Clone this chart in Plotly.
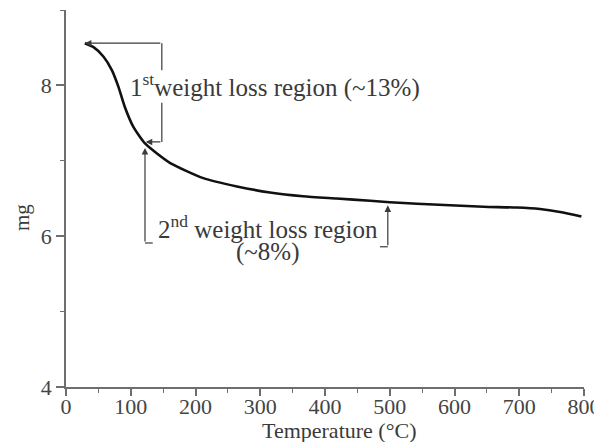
import plotly.graph_objects as go

# Data (Temperature in °C, mass in mg)
temperature = [29, 42, 58, 71, 81, 91, 104, 122, 140, 161, 212, 264, 315, 366,
               418, 470, 500, 542, 593, 645, 696, 732, 763, 796]
mass = [8.56, 8.51, 8.38, 8.20, 7.98, 7.71, 7.45, 7.23, 7.10, 6.97, 6.77, 6.66,
        6.58, 6.53, 6.50, 6.47, 6.45, 6.43, 6.41, 6.39, 6.38, 6.36, 6.32, 6.26]
x_ticks = [0, 100, 200, 300, 400, 500, 600, 700, 800]
y_ticks = [4, 6, 8]

FONT = "Liberation Serif"
AX = "#6e6e6e"
TXT = "#3a3a3a"

fig = go.Figure()
fig.add_trace(go.Scatter(x=temperature, y=mass, mode="lines",
                         line=dict(color="#111111", width=2.6, shape="spline", smoothing=0.6),
                         hoverinfo="skip", showlegend=False))

def seg(x0, y0, x1, y1):
    fig.add_shape(type="line", x0=x0, y0=y0, x1=x1, y1=y1, xref="x", yref="y",
                  line=dict(color=TXT, width=1.2))

def arrow(xt, yt, xs, ys):
    fig.add_annotation(x=xt, y=yt, ax=xs, ay=ys, xref="x", yref="y", axref="x", ayref="y",
                       text="", showarrow=True, arrowhead=2, arrowsize=1.1, arrowwidth=1.2,
                       arrowcolor=TXT, standoff=0)

# 1st region bracket
arrow(temperature[0], mass[0], 148, mass[0])
seg(148, mass[0], 148, 8.20)
seg(148, 7.77, 148, 7.25)
arrow(123, 7.25, 148, 7.25)
fig.add_annotation(x=95, y=8.0, xref="x", yref="y", xanchor="left", yanchor="middle",
                   text="1<sup>st</sup>weight loss region (~13%)", showarrow=False,
                   font=dict(family=FONT, size=25, color=TXT))

# 2nd region bracket
arrow(122, 7.17, 122, 5.91)
seg(122, 5.91, 134, 5.91)
arrow(497, 6.41, 497, 5.86)
seg(497, 5.86, 485, 5.86)
fig.add_annotation(x=312, y=6.12, xref="x", yref="y", xanchor="center", yanchor="middle",
                   text="2<sup>nd</sup> weight loss region", showarrow=False,
                   font=dict(family=FONT, size=25, color=TXT))
fig.add_annotation(x=312, y=5.79, xref="x", yref="y", xanchor="center", yanchor="middle",
                   text="(~8%)", showarrow=False,
                   font=dict(family=FONT, size=25, color=TXT))

# axis titles
fig.add_annotation(x=(339 - 66) / 518, y=(387 - 431) / 377, xref="paper", yref="paper",
                   text="Temperature (°C)", showarrow=False, xanchor="center", yanchor="middle",
                   font=dict(family=FONT, size=22, color=TXT))
fig.add_annotation(x=(22 - 66) / 518, y=(387 - 218) / 377, xref="paper", yref="paper",
                   text="mg", textangle=-90, showarrow=False, xanchor="center", yanchor="middle",
                   font=dict(family=FONT, size=21, color=TXT))

fig.update_xaxes(range=[0, 800], tickvals=x_ticks, ticktext=[str(v) for v in x_ticks],
                 automargin=False, ticklabelstandoff=-8,
                 showline=True, linecolor=AX, linewidth=1.5, showgrid=False, zeroline=False,
                 ticks="outside", ticklen=7, tickwidth=1.5, tickcolor=AX,
                 minor=dict(dtick=50, tick0=0, ticks="outside", ticklen=4, tickwidth=1.2, tickcolor=AX, showgrid=False),
                 tickfont=dict(family=FONT, size=22, color="#444444"))
fig.update_yaxes(range=[4, 9], tickvals=y_ticks, ticktext=[str(v) for v in y_ticks],
                 automargin=False,
                 showline=True, linecolor=AX, linewidth=1.5, showgrid=False, zeroline=False,
                 ticks="outside", ticklen=8, tickwidth=1.5, tickcolor=AX,
                 minor=dict(dtick=1, tick0=0, ticks="outside", ticklen=4, tickwidth=1.2, tickcolor=AX, showgrid=False),
                 tickfont=dict(family=FONT, size=22, color="#444444"))

# page body has an 8px margin, so the figure is sized/placed to compensate
fig.update_layout(width=594, height=434, margin=dict(l=58, r=18, t=2, b=55, autoexpand=False),
                  paper_bgcolor="white", plot_bgcolor="white", showlegend=False,
                  font=dict(family=FONT))

fig.write_html("out.html")
